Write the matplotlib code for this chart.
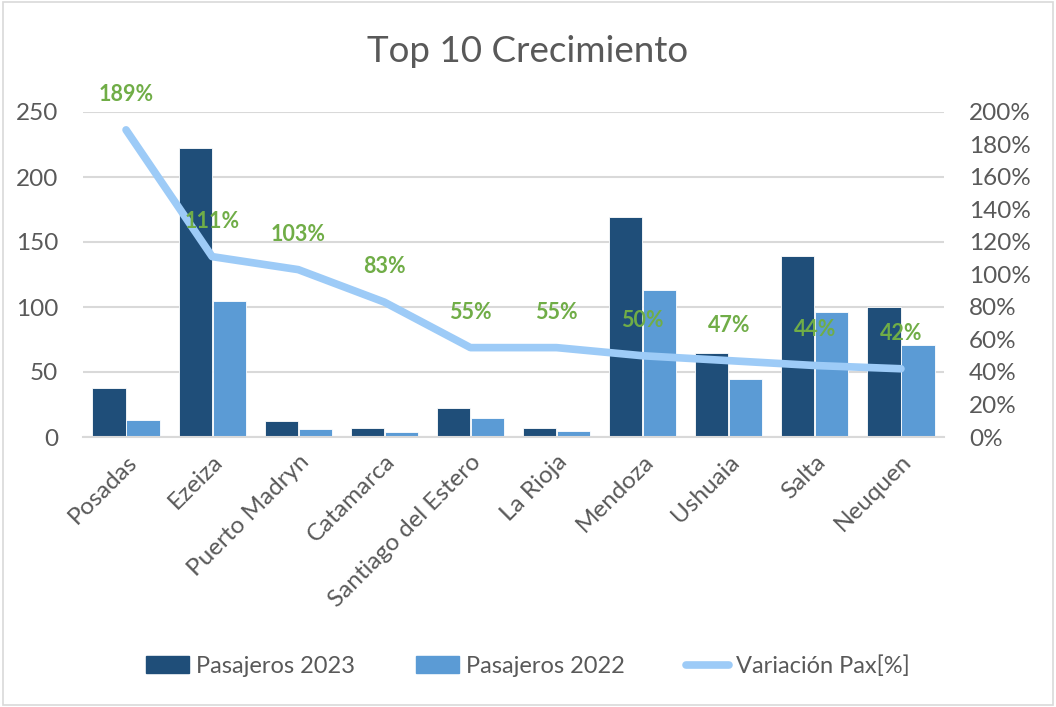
import numpy as np
import matplotlib.pyplot as plt
from matplotlib.patches import Rectangle
from matplotlib.lines import Line2D
from matplotlib.ticker import FuncFormatter

plt.rcParams['font.family'] = ['Lato', 'DejaVu Sans']

# data
cities = ["Posadas", "Ezeiza", "Puerto Madryn", "Catamarca", "Santiago del Estero",
          "La Rioja", "Mendoza", "Ushuaia", "Salta", "Neuquen"]
pax_2023 = [38, 222, 12, 7, 22, 7, 169, 65, 139, 100]
pax_2022 = [13, 105, 6, 4, 14.5, 4.5, 113, 45, 96.5, 70.5]
variacion = [189, 111, 103, 83, 55, 55, 50, 47, 44, 42]

c_2023 = "#1F4E79"
c_2022 = "#5B9BD5"
c_line = "#9DCBF7"
c_label = "#70AD47"
c_text = "#595959"
c_grid = "#D9D9D9"

fig = plt.figure(figsize=(10.56, 7.07), dpi=100)
fig.patches.append(Rectangle((0.003, 0.003), 0.994, 0.994, transform=fig.transFigure,
                             fill=False, edgecolor="#D9D9D9", linewidth=1.2))

ax = fig.add_axes([83 / 1056, 1 - 437 / 707, (944 - 83) / 1056, (437 - 112) / 707])
ax2 = ax.twinx()

x = np.arange(len(cities))
w = 0.385
ax.bar(x - w / 2 - 0.005, pax_2023, width=w, color=c_2023, edgecolor="white", linewidth=0.6,
       label="Pasajeros 2023", zorder=2)
ax.bar(x + w / 2 + 0.005, pax_2022, width=w, color=c_2022, edgecolor="white", linewidth=0.6,
       label="Pasajeros 2022", zorder=2)

ax.set_xlim(-0.5, len(cities) - 0.5)
ax.set_ylim(0, 250)
ax.set_yticks(np.arange(0, 251, 50))
ax.yaxis.grid(True, color=c_grid, linewidth=1.5)
ax.set_axisbelow(True)
for s in ax.spines.values():
    s.set_visible(False)
for s in ax2.spines.values():
    s.set_visible(False)
ax.spines['bottom'].set_visible(True)
ax.spines['bottom'].set_color(c_grid)
ax.spines['bottom'].set_linewidth(1.5)

ax.tick_params(axis='y', length=0, labelsize=17.5, labelcolor=c_text, pad=18)
ax.set_xticks(x)
ax.set_xticklabels(cities, rotation=45, ha='right', rotation_mode='anchor')
ax.tick_params(axis='x', length=0, labelsize=17.5, labelcolor=c_text, pad=10)

ax2.plot(x, variacion, color=c_line, linewidth=5.5, solid_capstyle='round',
         label="Variación Pax[%]", zorder=3)
ax2.set_ylim(0, 200)
ax2.set_yticks(np.arange(0, 201, 20))
ax2.yaxis.set_major_formatter(FuncFormatter(lambda v, p: f"{v:.0f}%"))
ax2.tick_params(axis='y', length=0, labelsize=17.5, labelcolor=c_text, pad=18)
for xi, v in zip(x, variacion):
    ax2.annotate(f"{v}%", (xi, v), xytext=(0, 18), textcoords='offset points',
                 ha='center', va='bottom', color=c_label, fontsize=15.5, fontweight='bold')

fig.text(0.5, 1 - 52 / 707, "Top 10 Crecimiento", ha='center', va='center',
         fontsize=26.5, color=c_text)

handles = [Rectangle((0, 0), 1, 1, color=c_2023),
           Rectangle((0, 0), 1, 1, color=c_2022),
           Line2D([0], [0], color=c_line, linewidth=5.5, solid_capstyle='round')]
fig.legend(handles, ["Pasajeros 2023", "Pasajeros 2022", "Variación Pax[%]"],
           loc='center', bbox_to_anchor=(0.5, 1 - 666 / 707), ncol=3, frameon=False,
           fontsize=17, labelcolor=c_text, handlelength=1.8, handleheight=0.7,
           handletextpad=0.3, columnspacing=2.6)

fig.savefig("out.png", dpi=100)
